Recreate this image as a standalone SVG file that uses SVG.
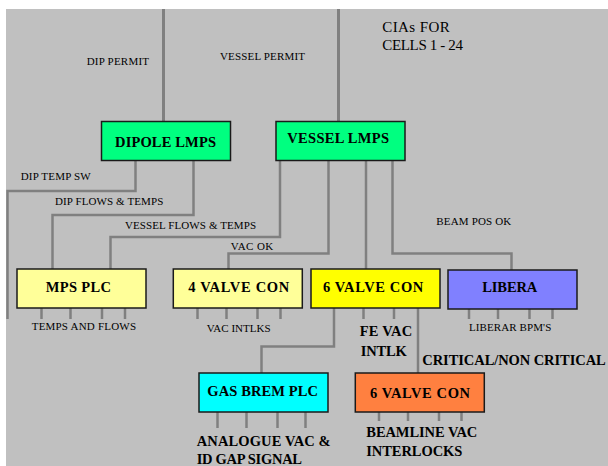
<svg xmlns="http://www.w3.org/2000/svg" width="608" height="466" viewBox="0 0 608 466">
<style>
.bg{fill:#C0C0C0}
.box{stroke:#1a1a1a;stroke-width:1.5}
.ln{fill:none;stroke:#808080;stroke-width:2.5}
.top{stroke-width:3}
.bt{font-family:"Liberation Serif","Times New Roman",serif;font-weight:bold;font-size:14.5px;fill:#000}
.sm{font-family:"Liberation Serif","Times New Roman",serif;font-size:11px;fill:#000}
.rg{font-family:"Liberation Serif","Times New Roman",serif;font-size:15px;fill:#000}
</style>
<rect x="0" y="0" width="608" height="466" fill="#ffffff"/>
<rect class="bg" x="6" y="9" width="602" height="457"/>
<g id="connectors">
<path class="ln top" d="M163.5 9V121"/>
<path class="ln top" d="M338.5 9V121"/>
<path class="ln" d="M135.5 161V191H7.5V319"/>
<path class="ln" d="M193.5 161V215H52.5V269"/>
<path class="ln" d="M280 161V237H110.5V269"/>
<path class="ln" d="M328.5 161V253.5H228.5V269"/>
<path class="ln" d="M366 161V269"/>
<path class="ln" d="M392.5 161V253.5H511.5V270"/>
<path class="ln" d="M41.5 308V319M70.5 308V319M102 308V319M125 308V319"/>
<path class="ln" d="M197.5 308V319M226.5 308V319M257.5 308V319M280.5 308V319"/>
<path class="ln" d="M363.5 308V319M394 308V319"/>
<path class="ln" d="M334 308V346.5H261.5V373"/>
<path class="ln" d="M418 308V373"/>
<path class="ln" d="M469 309V319M498 309V319M529.5 309V319M552.5 309V319"/>
<path class="ln" d="M217.5 412V428M246.5 412V428M277.5 412V428M305.5 412V428"/>
<path class="ln" d="M379 412V421M408 412V421M439 412V421M461.5 412V421"/>
</g>
<g id="labels">
<text class="sm" x="86.7" y="65" textLength="62.3">DIP PERMIT</text>
<text class="sm" x="220" y="60" textLength="85">VESSEL PERMIT</text>
<text class="rg" x="382.3" y="32.3" textLength="67.4">CIAs FOR</text>
<text class="rg" x="382.3" y="50" textLength="80.7">CELLS 1 - 24</text>
<text class="sm" x="20.7" y="180" textLength="70">DIP TEMP SW</text>
<text class="sm" x="55" y="205" textLength="108.3">DIP FLOWS &amp; TEMPS</text>
<text class="sm" x="125" y="229.3" textLength="131">VESSEL FLOWS &amp; TEMPS</text>
<text class="sm" x="230.7" y="250" textLength="42.6">VAC OK</text>
<text class="sm" x="436.3" y="225.3" textLength="75">BEAM POS OK</text>
<text class="sm" x="31.7" y="329.7" textLength="104.3">TEMPS AND FLOWS</text>
<text class="sm" x="206.7" y="331.5" textLength="64">VAC INTLKS</text>
<text class="sm" x="469" y="331.3" textLength="82.3">LIBERAR BPM'S</text>
<text class="bt" x="359.7" y="336.3" textLength="52.6">FE VAC</text>
<text class="bt" x="360.7" y="356.3" textLength="46">INTLK</text>
<text class="bt" x="422.3" y="365" textLength="183.4">CRITICAL/NON CRITICAL</text>
<text class="bt" x="196.7" y="446.3" textLength="134">ANALOGUE VAC &amp;</text>
<text class="bt" x="196.7" y="463.7" textLength="105.3">ID GAP SIGNAL</text>
<text class="bt" x="366.3" y="437" textLength="111">BEAMLINE VAC</text>
<text class="bt" x="366.3" y="455.7" textLength="96">INTERLOCKS</text>
</g>
<g id="dipole-lmps">
<rect class="box" x="101.5" y="121.5" width="129" height="39" fill="#00FF80"/>
<text class="bt" x="115" y="146.5" textLength="101">DIPOLE LMPS</text>
</g>
<g id="vessel-lmps">
<rect class="box" x="276" y="121.5" width="129" height="39" fill="#00FF80"/>
<text class="bt" x="287.3" y="143.3" textLength="101.7">VESSEL LMPS</text>
</g>
<g id="mps-plc">
<rect class="box" x="17" y="269" width="129" height="39" fill="#FFFF99"/>
<text class="bt" x="45.7" y="292.3" textLength="65.3">MPS PLC</text>
</g>
<g id="valve4">
<rect class="box" x="173.3" y="269" width="129" height="39" fill="#FFFF99"/>
<text class="bt" x="188.3" y="292.3" textLength="101">4 VALVE CON</text>
</g>
<g id="valve6">
<rect class="box" x="311" y="269" width="129" height="39" fill="#FFFF00"/>
<text class="bt" x="323" y="291.7" textLength="100.3">6 VALVE CON</text>
</g>
<g id="libera">
<rect class="box" x="448" y="270" width="129" height="39" fill="#8080FF"/>
<text class="bt" x="482.3" y="292" textLength="55">LIBERA</text>
</g>
<g id="gas-brem-plc">
<rect class="box" x="199" y="373" width="129" height="39" fill="#00FFFF"/>
<text class="bt" x="207.3" y="396.3" textLength="110.7">GAS BREM PLC</text>
</g>
<g id="valve6-beamline">
<rect class="box" x="355.3" y="373" width="129" height="39" fill="#FF8040"/>
<text class="bt" x="370" y="397.5" textLength="100">6 VALVE CON</text>
</g>
</svg>
